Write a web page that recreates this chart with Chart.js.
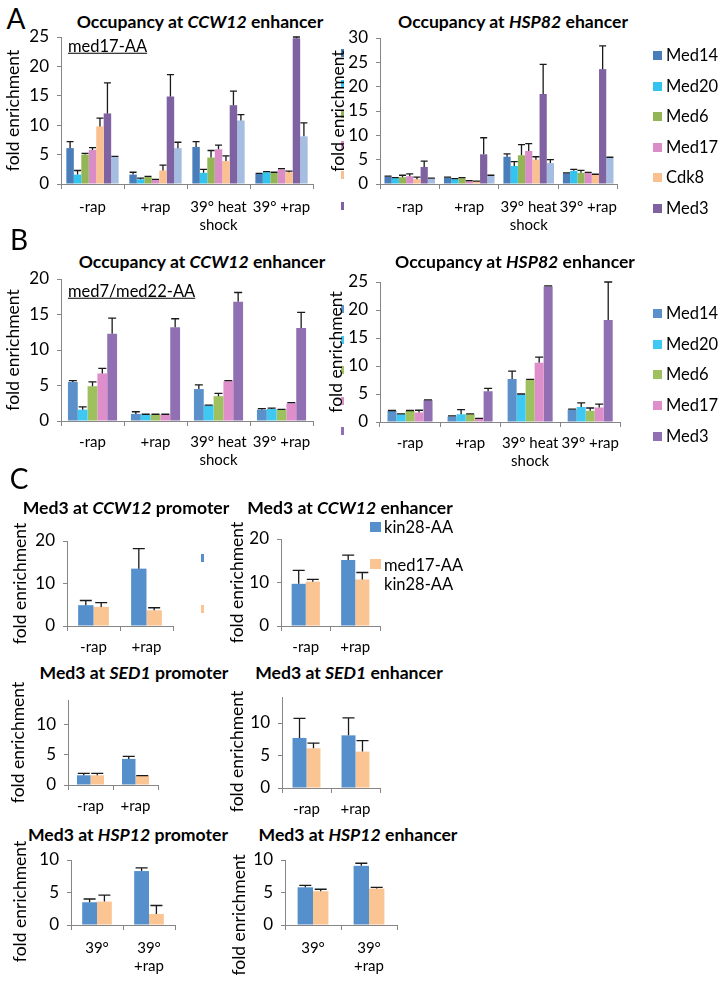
<!DOCTYPE html>
<html><head><meta charset="utf-8">
<script src="https://cdn.jsdelivr.net/npm/chart.js@4.4.1/dist/chart.umd.min.js"></script>
<style>
html,body{margin:0;padding:0;background:#fff;}
body{width:719px;height:981px;position:relative;overflow:hidden;font-family:Lato,'DejaVu Sans',sans-serif;color:#000;}
canvas{position:absolute;}
.t{position:absolute;transform:translate(-50%,-50%);white-space:nowrap;font-weight:bold;font-size:17.6px;line-height:1;}
.lt{position:absolute;transform:translate(-50%,-50%);font-size:28px;line-height:1;}
.st{position:absolute;transform:translateY(-50%);font-size:16.5px;text-decoration:underline;line-height:1;white-space:nowrap;}
.lg{position:absolute;font-size:16.5px;line-height:1;white-space:nowrap;}
.sq{position:absolute;}
</style>
</head><body>
<script>
// ---------- data ----------
const conditions = ['-rap', '+rap', ['39° heat', 'shock'], '39° +rap'];
const seriesA = ['Med14', 'Med20', 'Med6', 'Med17', 'Cdk8', 'Med3', ''];
const seriesB = ['Med14', 'Med20', 'Med6', 'Med17', 'Med3'];

// Panel A, CCW12 enhancer (med17-AA)
const aCCW12_Med14 = [6.1, 1.6, 6.3, 1.7];   const aCCW12_Med14_err = [1.1, 0.4, 0.9, 0.1];
const aCCW12_Med20 = [1.6, 0.8, 1.9, 2.0];   const aCCW12_Med20_err = [0.7, 0.2, 0.6, 0.1];
const aCCW12_Med6  = [5.0, 1.2, 4.5, 1.9];   const aCCW12_Med6_err  = [0.2, 0.1, 1.2, 0.1];
const aCCW12_Med17 = [5.8, 0.7, 5.9, 2.5];   const aCCW12_Med17_err = [0.4, 0.1, 0.7, 0.1];
const aCCW12_Cdk8  = [9.8, 2.3, 3.9, 2.0];   const aCCW12_Cdk8_err  = [1.4, 0.9, 0.9, 0.2];
const aCCW12_Med3  = [12.0, 14.9, 13.4, 24.8]; const aCCW12_Med3_err = [5.2, 3.7, 2.4, 0.2];
const aCCW12_S7    = [4.6, 6.1, 10.8, 8.1];  const aCCW12_S7_err    = [0.1, 1.0, 1.0, 2.3];

// Panel A, HSP82 enhancer
const aHSP82_Med14 = [1.5, 1.3, 5.6, 2.2];   const aHSP82_Med14_err = [0.1, 0.1, 0.6, 0.1];
const aHSP82_Med20 = [1.2, 1.0, 3.7, 2.7];   const aHSP82_Med20_err = [0.1, 0.1, 0.9, 0.3];
const aHSP82_Med6  = [1.4, 1.2, 5.9, 2.3];   const aHSP82_Med6_err  = [0.4, 0.1, 2.2, 0.5];
const aHSP82_Med17 = [1.6, 0.6, 6.8, 2.3];   const aHSP82_Med17_err = [0.5, 0.1, 1.5, 0.1];
const aHSP82_Cdk8  = [1.0, 0.5, 5.0, 1.9];   const aHSP82_Cdk8_err  = [0.4, 0.1, 0.6, 0.1];
const aHSP82_Med3  = [3.5, 6.1, 18.5, 23.6]; const aHSP82_Med3_err  = [1.2, 3.4, 6.1, 4.8];
const aHSP82_S7    = [1.1, 1.7, 4.3, 5.4];   const aHSP82_S7_err    = [0.1, 0.1, 0.7, 0.1];

// Panel B, CCW12 enhancer (med7/med22-AA)
const bCCW12_Med14 = [5.5, 1.0, 4.5, 1.6];   const bCCW12_Med14_err = [0.2, 0.3, 0.6, 0.15];
const bCCW12_Med20 = [1.6, 0.9, 2.2, 1.7];   const bCCW12_Med20_err = [0.4, 0.05, 0.05, 0.1];
const bCCW12_Med6  = [4.9, 0.9, 3.5, 1.6];   const bCCW12_Med6_err  = [0.6, 0.05, 0.4, 0.05];
const bCCW12_Med17 = [6.7, 0.9, 5.6, 2.5];   const bCCW12_Med17_err = [0.7, 0.05, 0.1, 0.1];
const bCCW12_Med3  = [12.3, 13.2, 16.8, 13.1]; const bCCW12_Med3_err = [2.2, 1.2, 1.3, 2.2];

// Panel B, HSP82 enhancer
const bHSP82_Med14 = [2.0, 1.0, 7.7, 2.2];   const bHSP82_Med14_err = [0.05, 0.1, 1.4, 0.1];
const bHSP82_Med20 = [1.4, 1.4, 4.9, 2.7];   const bHSP82_Med20_err = [0.05, 0.8, 0.1, 0.7];
const bHSP82_Med6  = [2.0, 1.4, 7.5, 2.0];   const bHSP82_Med6_err  = [0.05, 0.05, 0.1, 0.5];
const bHSP82_Med17 = [1.7, 0.6, 10.6, 2.6];  const bHSP82_Med17_err = [0.4, 0.05, 1.0, 0.6];
const bHSP82_Med3  = [3.9, 5.5, 24.2, 18.2]; const bHSP82_Med3_err  = [0.05, 0.5, 0.1, 6.8];

// Panel C
const strains = ['kin28-AA', 'med17-AA kin28-AA'];
const rapLabels = ['-rap', '+rap'];
const heatLabels = ['39°', ['39°', '+rap']];
const cCCW12prom_kin28 = [4.9, 13.5];  const cCCW12prom_kin28_err = [1.1, 4.7];
const cCCW12prom_med17 = [4.5, 3.7];   const cCCW12prom_med17_err = [1.0, 0.6];
const cCCW12enh_kin28  = [9.7, 15.2];  const cCCW12enh_kin28_err  = [3.1, 1.1];
const cCCW12enh_med17  = [10.2, 10.7]; const cCCW12enh_med17_err  = [0.5, 1.6];
const cSED1prom_kin28  = [1.6, 4.3];   const cSED1prom_kin28_err  = [0.3, 0.4];
const cSED1prom_med17  = [1.6, 1.5];   const cSED1prom_med17_err  = [0.3, 0.05];
const cSED1enh_kin28   = [7.7, 8.1];   const cSED1enh_kin28_err   = [3.0, 2.7];
const cSED1enh_med17   = [6.1, 5.6];   const cSED1enh_med17_err   = [0.8, 1.7];
const cHSP12prom_kin28 = [3.5, 8.3];   const cHSP12prom_kin28_err = [0.5, 0.5];
const cHSP12prom_med17 = [3.6, 1.7];   const cHSP12prom_med17_err = [1.0, 1.3];
const cHSP12enh_kin28  = [5.8, 9.1];   const cHSP12enh_kin28_err  = [0.3, 0.4];
const cHSP12enh_med17  = [5.2, 5.6];   const cHSP12enh_med17_err  = [0.3, 0.2];

// ---------- styles ----------
const FONT = 'Lato, "DejaVu Sans", sans-serif';
const AXIS = '#868686';
const colorsA = ['#4a7ebb', '#33c3ef', '#94b556', '#d98cc7', '#fac08f', '#7f62a1', '#a5bde0'];
const colorsB = ['#5a91cb', '#3fc8f2', '#9ec05f', '#de8fcb', '#9070b2'];
const colorsC = ['#5590cc', '#fbc493'];
const YTITLE_SIZE = 17.5;

const errPlugin = {
  id: 'errbars',
  afterDatasetsDraw(chart) {
    const ctx = chart.ctx, ys = chart.scales.y;
    chart.data.datasets.forEach((ds, i) => {
      const meta = chart.getDatasetMeta(i);
      meta.data.forEach((bar, j) => {
        const e = ds.errors ? ds.errors[j] : 0;
        if (!e) return;
        const v = ds.data[j];
        const y0 = ys.getPixelForValue(v), y1 = ys.getPixelForValue(v + e);
        const half = Math.min(bar.width / 2, chart.options.capHalf || 5);
        ctx.save();
        ctx.strokeStyle = '#1a1a1a'; ctx.lineWidth = 1.3;
        ctx.beginPath();
        ctx.moveTo(bar.x, y0); ctx.lineTo(bar.x, y1);
        ctx.moveTo(bar.x - half, y1); ctx.lineTo(bar.x + half, y1);
        ctx.stroke();
        ctx.restore();
      });
    });
  }
};

// y-title text, optionally shifted downward along the axis by padding with trailing spaces
function yTitleText(shift) {
  const base = 'fold enrichment';
  if (!shift) return base;
  const m = document.createElement('canvas').getContext('2d');
  m.font = YTITLE_SIZE + 'px ' + FONT;
  const sp = m.measureText(' ').width || 4;
  return base + ' '.repeat(Math.round(2 * shift / sp));
}

function makeChart(box, plot, cfg) {
  const cv = document.createElement('canvas');
  cv.width = box.w; cv.height = box.h;
  cv.style.left = box.x + 'px'; cv.style.top = box.y + 'px';
  document.body.appendChild(cv);
  const yW = plot.l - box.x;
  const xH = box.y + box.h - plot.b;
  new Chart(cv, {
    type: 'bar',
    data: {
      labels: cfg.labels,
      datasets: cfg.values.map((vals, i) => ({
        label: cfg.names[i], data: vals, errors: cfg.errors[i],
        backgroundColor: cfg.colors[i], borderWidth: 0,
        categoryPercentage: cfg.cat, barPercentage: 1
      }))
    },
    options: {
      responsive: false, animation: false, devicePixelRatio: 1,
      capHalf: cfg.cap,
      layout: { padding: { left: 0, top: plot.t - box.y, right: box.x + box.w - plot.r, bottom: 0 } },
      plugins: { legend: { display: false }, tooltip: { enabled: false } },
      scales: {
        x: {
          grid: { display: true, drawOnChartArea: false, offset: true, tickLength: 5, color: AXIS },
          border: { color: AXIS },
          ticks: { font: { size: 15, family: FONT }, color: '#000', padding: cfg.xPad, maxRotation: 0, autoSkip: false },
          afterFit: s => { s.height = xH; }
        },
        y: {
          min: 0, max: cfg.max,
          ticks: { stepSize: cfg.step, includeBounds: false, font: { size: 17, family: FONT }, color: '#000', padding: 8 },
          grid: { display: true, drawOnChartArea: false, tickLength: 4, color: AXIS },
          border: { color: AXIS },
          title: { display: true, text: yTitleText(cfg.yShift), font: { size: YTITLE_SIZE, family: FONT }, color: '#000', padding: { top: cfg.ytp, bottom: 0 } },
          afterFit: s => { s.width = yW; }
        }
      }
    },
    plugins: [errPlugin]
  });
}

function addText(cls, html, x, y) {
  const d = document.createElement('div');
  d.className = cls; d.innerHTML = html;
  d.style.left = x + 'px'; d.style.top = y + 'px';
  document.body.appendChild(d);
  return d;
}
function addSq(color, x, y, w, h) {
  const d = document.createElement('div');
  d.className = 'sq'; d.style.background = color;
  d.style.left = x + 'px'; d.style.top = y + 'px'; d.style.width = w + 'px'; d.style.height = h + 'px';
  document.body.appendChild(d);
}
function legend(names, colors, x, y0, step) {
  names.forEach((n, i) => {
    if (!n) return;
    const cy = y0 + i * step;
    addSq(colors[i], x, cy - 4, 9, 9);
    addText('lg', n, x + 13, cy - 8);
  });
}
function fragments(colors, count, x, y0, step) {
  for (let i = 0; i < count; i++) addSq(colors[i], x, y0 + i * step - 4, 3, 8);
}

// ---------- Panel A ----------
addText('lt', 'A', 16, 18);
addText('t', 'Occupancy at <i>CCW12</i> enhancer', 200, 22);
addText('t', 'Occupancy at <i>HSP82</i> ehancer', 513, 22);
makeChart({ x: 0, y: 0, w: 330, h: 235 }, { l: 61, t: 37, r: 313, b: 184 }, {
  labels: conditions, names: seriesA, colors: colorsA, max: 25, step: 5, cat: 0.83, cap: 3.5, xPad: 9, ytp: 2.5,
  values: [aCCW12_Med14, aCCW12_Med20, aCCW12_Med6, aCCW12_Med17, aCCW12_Cdk8, aCCW12_Med3, aCCW12_S7],
  errors: [aCCW12_Med14_err, aCCW12_Med20_err, aCCW12_Med6_err, aCCW12_Med17_err, aCCW12_Cdk8_err, aCCW12_Med3_err, aCCW12_S7_err]
});
fragments(colorsA, 6, 341, 53, 30.6);
makeChart({ x: 326, y: 0, w: 300, h: 235 }, { l: 380, t: 38, r: 625, b: 184 }, {
  labels: conditions, names: seriesA, colors: colorsA, max: 30, step: 5, cat: 0.85, cap: 3.5, xPad: 9, ytp: 1.5,
  values: [aHSP82_Med14, aHSP82_Med20, aHSP82_Med6, aHSP82_Med17, aHSP82_Cdk8, aHSP82_Med3, aHSP82_S7],
  errors: [aHSP82_Med14_err, aHSP82_Med20_err, aHSP82_Med6_err, aHSP82_Med17_err, aHSP82_Cdk8_err, aHSP82_Med3_err, aHSP82_S7_err]
});
legend(seriesA, colorsA, 653, 55, 30.6);
addText('st', 'med17-AA', 68, 46);

// ---------- Panel B ----------
addText('lt', 'B', 19, 239);
addText('t', 'Occupancy at <i>CCW12</i> enhancer', 202, 262);
addText('t', 'Occupancy at <i>HSP82</i> enhancer', 515, 262);
makeChart({ x: 0, y: 240, w: 330, h: 235 }, { l: 61, t: 279, r: 313, b: 421 }, {
  labels: conditions, names: seriesB, colors: colorsB, max: 20, step: 5, cat: 0.78, cap: 4, xPad: 7, ytp: 2.5,
  values: [bCCW12_Med14, bCCW12_Med20, bCCW12_Med6, bCCW12_Med17, bCCW12_Med3],
  errors: [bCCW12_Med14_err, bCCW12_Med20_err, bCCW12_Med6_err, bCCW12_Med17_err, bCCW12_Med3_err]
});
fragments(colorsB, 5, 341, 309, 30.6);
makeChart({ x: 326, y: 240, w: 300, h: 235 }, { l: 380, t: 282, r: 625, b: 422 }, {
  labels: conditions, names: seriesB, colors: colorsB, max: 25, step: 5, cat: 0.75, cap: 4, xPad: 7, ytp: 0,
  values: [bHSP82_Med14, bHSP82_Med20, bHSP82_Med6, bHSP82_Med17, bHSP82_Med3],
  errors: [bHSP82_Med14_err, bHSP82_Med20_err, bHSP82_Med6_err, bHSP82_Med17_err, bHSP82_Med3_err]
});
legend(seriesB, colorsB, 653, 313, 30.7);
addText('st', 'med7/med22-AA', 68, 291);

// ---------- Panel C ----------
addText('lt', 'C', 19, 478);
addText('t', 'Med3 at <i>CCW12</i> promoter', 126, 508);
addText('t', 'Med3 at <i>CCW12</i> enhancer', 350, 508);
addText('t', 'Med3 at <i>SED1</i> promoter', 134, 673);
addText('t', 'Med3 at <i>SED1</i> enhancer', 349, 673);
addText('t', 'Med3 at <i>HSP12</i> promoter', 128, 835);
addText('t', 'Med3 at <i>HSP12</i> enhancer', 358, 835);

makeChart({ x: 0, y: 518, w: 195, h: 142 }, { l: 67, t: 541, r: 173, b: 626 }, {
  labels: rapLabels, names: strains, colors: colorsC, max: 20, step: 10, cat: 0.58, cap: 6, xPad: 7, ytp: 10,
  values: [cCCW12prom_kin28, cCCW12prom_med17], errors: [cCCW12prom_kin28_err, cCCW12prom_med17_err]
});
fragments(colorsC, 2, 201, 558, 51);
makeChart({ x: 225, y: 518, w: 165, h: 142 }, { l: 281, t: 539, r: 380, b: 626 }, {
  labels: rapLabels, names: strains, colors: colorsC, max: 20, step: 10, cat: 0.57, cap: 6, xPad: 7, ytp: 2,
  values: [cCCW12enh_kin28, cCCW12enh_med17], errors: [cCCW12enh_kin28_err, cCCW12enh_med17_err]
});
addSq(colorsC[0], 370, 522, 11, 10);
addText('lg', 'kin28-AA', 384, 519);
addSq(colorsC[1], 370, 559, 11, 10);
addText('lg', 'med17-AA<br>kin28-AA', 384, 556).style.lineHeight = '19px';

makeChart({ x: 0, y: 678, w: 195, h: 147 }, { l: 68, t: 700, r: 158, b: 785 }, {
  labels: rapLabels, names: strains, colors: colorsC, max: 14, step: 5, cat: 0.6, cap: 6, xPad: 7, ytp: 8,
  values: [cSED1prom_kin28, cSED1prom_med17], errors: [cSED1prom_kin28_err, cSED1prom_med17_err]
});
makeChart({ x: 225, y: 678, w: 170, h: 147 }, { l: 282, t: 697, r: 380, b: 788 }, {
  labels: rapLabels, names: strains, colors: colorsC, max: 14, step: 5, cat: 0.57, cap: 6, xPad: 7, ytp: 2, yShift: 10,
  values: [cSED1enh_kin28, cSED1enh_med17], errors: [cSED1enh_kin28_err, cSED1enh_med17_err]
});
makeChart({ x: 0, y: 836, w: 195, h: 145 }, { l: 71, t: 860, r: 175, b: 925 }, {
  labels: heatLabels, names: strains, colors: colorsC, max: 10, step: 5, cat: 0.57, cap: 6, xPad: 9, ytp: 10, yShift: 9,
  values: [cHSP12prom_kin28, cHSP12prom_med17], errors: [cHSP12prom_kin28_err, cHSP12prom_med17_err]
});
makeChart({ x: 225, y: 836, w: 185, h: 145 }, { l: 285, t: 860, r: 397, b: 925 }, {
  labels: heatLabels, names: strains, colors: colorsC, max: 10, step: 5, cat: 0.55, cap: 6, xPad: 9, ytp: 4, yShift: 22,
  values: [cHSP12enh_kin28, cHSP12enh_med17], errors: [cHSP12enh_kin28_err, cHSP12enh_med17_err]
});
</script>
</body></html>
